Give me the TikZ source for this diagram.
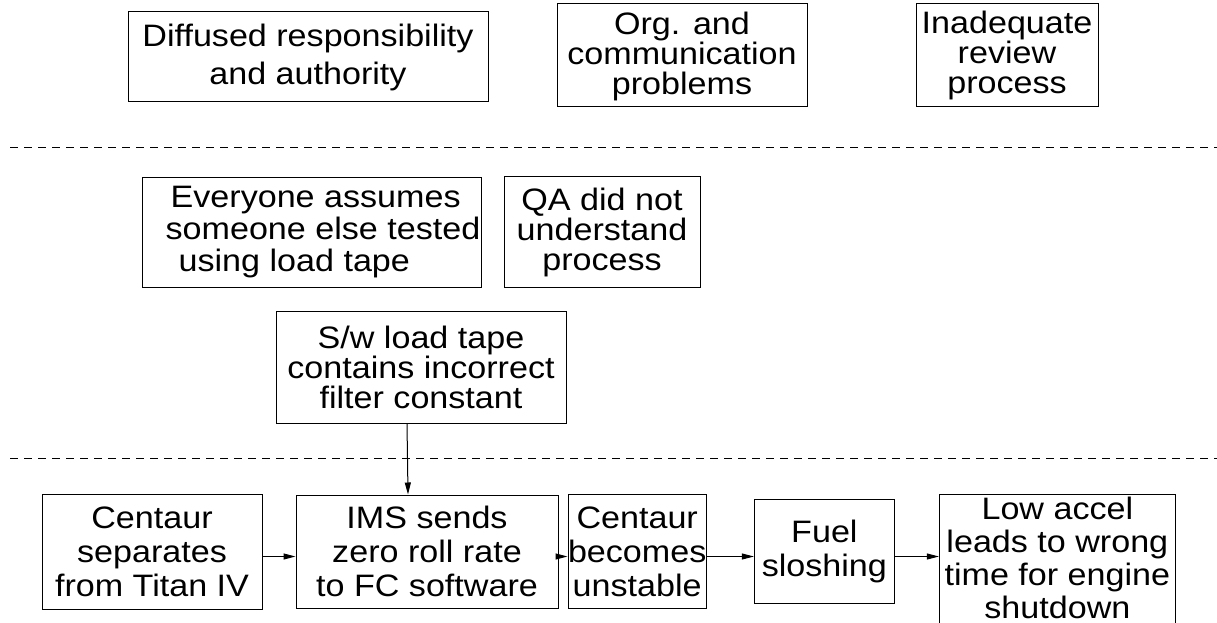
\documentclass[tikz,border=0pt]{standalone}
\usepackage{fontspec}
\setmainfont[FakeStretch=1.1]{Liberation Sans}
\usetikzlibrary{positioning}
\usetikzlibrary{arrows.meta}

\begin{document}
\begin{tikzpicture}
[
x=1pt, y=-1pt,
box-a/.style={draw, line width=1pt, inner sep=0pt, align=center,
  font=\fontsize{31}{30}\selectfont},
box-b/.style={box-a, font=\fontsize{31}{34}\selectfont},
line-a/.style={line width=1pt, dash pattern=on 8pt off 6pt},
arr-a/.style={line width=1pt, -{Triangle[length=12pt,width=6pt]}}
]
\useasboundingbox (0,0) rectangle (1217,623);
% top level
\node (box-diff)  [box-a, minimum width=360pt, minimum height=90pt, font=\fontsize{31}{38}\selectfont] at (308,57)  {Diffused responsibility\\and authority};
\node (box-org)   [box-a, minimum width=250pt, minimum height=103pt, right = 68pt of box-diff, yshift=1.5pt, text depth=4pt]  {Org. and\\communication\\problems};
\node (box-inad)  [box-a, minimum width=182pt, minimum height=103pt, right = 108pt of box-org]  {Inadequate\\review\\process};
\draw [line-a] (10,147) -- (1217,147);
% middle level
\node (box-every) [box-a, minimum width=339pt, minimum height=110pt, align=left, font=\fontsize{31}{32}\selectfont] at (311.5,232)  {\hspace*{28pt}Everyone assumes\\\hspace*{23pt}someone else tested\\\hspace*{36pt}using load tape};
\node (box-qa)    [box-a, minimum width=196pt, minimum height=111pt, right = 22pt of box-every]  {QA did not\\understand\\process};
\node (box-sw)    [box-a, minimum width=290pt, minimum height=112pt] at (421,367)  {S/w load tape\\contains incorrect\\filter constant};
\draw [line-a] (10,458) -- (1217,458);
% bottom level
\node (box-sep)   [box-b, minimum width=220pt, minimum height=115pt] at (152,551.5)  {Centaur\\separates\\from Titan IV};
\node (box-ims)   [box-b, minimum width=262pt, minimum height=113pt, right = 33pt of box-sep]  {IMS sends\\zero roll rate\\to FC software};
\node (box-unst)  [box-b, minimum width=131pt, minimum height=114pt, right = 9pt of box-ims]  {Centaur\\becomes\\unstable};
\node (box-fuel)  [box-b, minimum width=140pt, minimum height=104pt, right = 47pt of box-unst]  {Fuel\\sloshing};
\node (box-low)   [box-b, minimum width=236pt, minimum height=136pt, right = 44pt of box-fuel, yshift=-11pt, text depth=10pt, font=\fontsize{31}{33}\selectfont]  {Low accel\\leads to wrong\\time for engine\\shutdown};
% arrows
\draw [arr-a] ([xshift=-14pt]box-sw.south) -- ([xshift=-19pt]box-ims.north);
\draw [arr-a] ([yshift=-5pt]box-sep.east)  -- ([yshift=-5pt]box-ims.west);
\draw [arr-a] ([yshift=-5pt]box-ims.east)  -- ([yshift=-5pt]box-unst.west);
\draw [arr-a] ([yshift=-5pt]box-unst.east) -- ([yshift=-5pt]box-fuel.west);
\draw [arr-a] ([yshift=-5pt]box-fuel.east) -- ([yshift=6pt]box-low.west);
\end{tikzpicture}
\end{document}
